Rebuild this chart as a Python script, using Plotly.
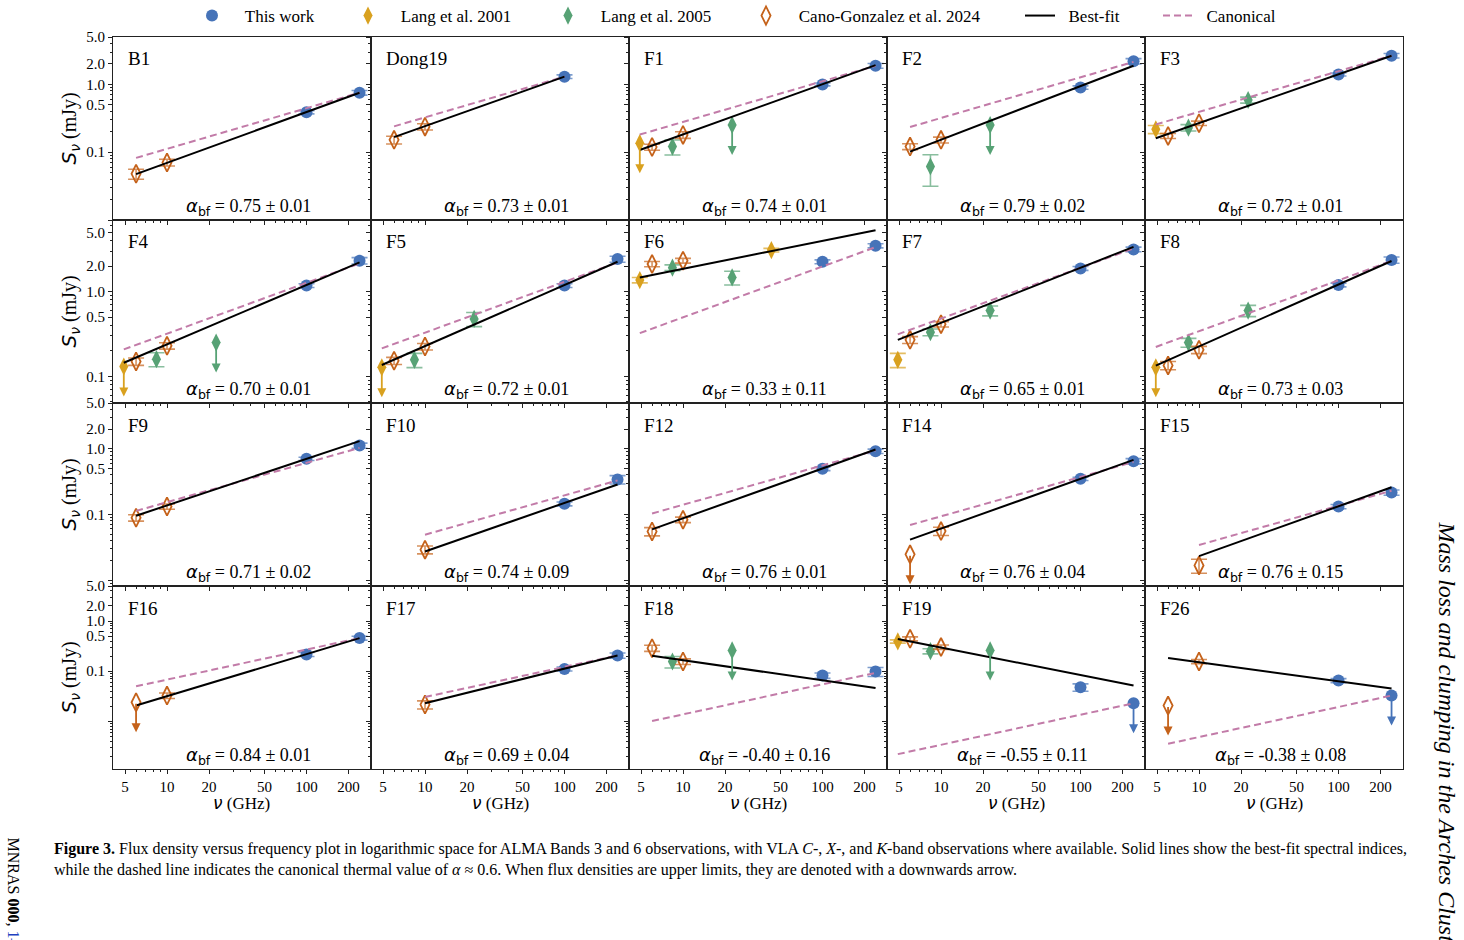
import math
import plotly.graph_objects as go

# ---------------- data ----------------
PANELS = ["B1", "Dong19", "F1", "F2", "F3",
          "F4", "F5", "F6", "F7", "F8",
          "F9", "F10", "F12", "F14", "F15",
          "F16", "F17", "F18", "F19", "F26"]
ALPHA_BF = [0.75, 0.73, 0.74, 0.79, 0.72, 0.70, 0.72, 0.33, 0.65, 0.73,
            0.71, 0.74, 0.76, 0.76, 0.76, 0.84, 0.69, -0.40, -0.55, -0.38]
ALPHA_ERR = [0.01, 0.01, 0.01, 0.02, 0.01, 0.01, 0.01, 0.11, 0.01, 0.03,
             0.02, 0.09, 0.01, 0.04, 0.15, 0.01, 0.04, 0.16, 0.11, 0.08]

# (panel, frequency GHz, flux mJy, error mJy, upper limit)
THIS_WORK = [
    ("B1", 100, 0.388, 0.02, False), ("B1", 240, 0.754, 0.06, False),
    ("Dong19", 100, 1.30, 0.08, False),
    ("F1", 100, 1.00, 0.05, False), ("F1", 240, 1.88, 0.15, False),
    ("F2", 100, 0.90, 0.05, False), ("F2", 240, 2.20, 0.20, False),
    ("F3", 100, 1.40, 0.07, False), ("F3", 240, 2.65, 0.20, False),
    ("F4", 100, 1.18, 0.06, False), ("F4", 240, 2.32, 0.20, False),
    ("F5", 100, 1.18, 0.06, False), ("F5", 240, 2.42, 0.20, False),
    ("F6", 100, 2.25, 0.12, False), ("F6", 240, 3.48, 0.20, False),
    ("F7", 100, 1.88, 0.10, False), ("F7", 240, 3.15, 0.20, False),
    ("F8", 100, 1.20, 0.06, False), ("F8", 240, 2.36, 0.20, False),
    ("F9", 100, 0.705, 0.04, False), ("F9", 240, 1.12, 0.10, False),
    ("F10", 100, 0.145, 0.01, False), ("F10", 240, 0.341, 0.05, False),
    ("F12", 100, 0.496, 0.03, False), ("F12", 240, 0.92, 0.07, False),
    ("F14", 100, 0.349, 0.02, False), ("F14", 240, 0.649, 0.06, False),
    ("F15", 100, 0.132, 0.01, False), ("F15", 240, 0.216, 0.02, False),
    ("F16", 100, 0.216, 0.02, False), ("F16", 240, 0.457, 0.04, False),
    ("F17", 100, 0.111, 0.01, False), ("F17", 240, 0.206, 0.025, False),
    ("F18", 100, 0.0819, 0.01, False), ("F18", 240, 0.0985, 0.02, False),
    ("F19", 100, 0.0479, 0.008, False), ("F19", 240, 0.0229, 0.0, True),
    ("F26", 100, 0.065, 0.006, False), ("F26", 240, 0.0327, 0.0, True),
]
LANG2001 = [
    ("F1", 4.9, 0.136, 0.0, True),
    ("F3", 4.9, 0.218, 0.03, False),
    ("F4", 4.9, 0.131, 0.0, True),
    ("F5", 4.9, 0.128, 0.0, True),
    ("F6", 4.9, 1.37, 0.10, False), ("F6", 43, 3.09, 0.15, False),
    ("F7", 4.9, 0.157, 0.03, False),
    ("F8", 4.9, 0.128, 0.0, True),
    ("F19", 4.9, 0.392, 0.03, False),
]
LANG2005 = [
    ("F1", 8.4, 0.121, 0.03, False), ("F1", 22.5, 0.252, 0.0, True),
    ("F2", 8.4, 0.0615, 0.03, False), ("F2", 22.5, 0.252, 0.0, True),
    ("F3", 8.4, 0.23, 0.025, False), ("F3", 22.5, 0.589, 0.06, False),
    ("F4", 8.4, 0.16, 0.03, False), ("F4", 22.5, 0.251, 0.0, True),
    ("F5", 8.4, 0.157, 0.03, False), ("F5", 22.5, 0.477, 0.09, False),
    ("F6", 8.4, 1.92, 0.15, False), ("F6", 22.5, 1.47, 0.27, False),
    ("F7", 8.4, 0.332, 0.03, False), ("F7", 22.5, 0.598, 0.08, False),
    ("F8", 8.4, 0.251, 0.03, False), ("F8", 22.5, 0.598, 0.09, False),
    ("F18", 8.4, 0.156, 0.04, False), ("F18", 22.5, 0.259, 0.0, True),
    ("F19", 8.4, 0.251, 0.03, False), ("F19", 22.5, 0.259, 0.0, True),
]
CANO2024 = [
    ("B1", 6, 0.048, 0.008, False), ("B1", 10, 0.0705, 0.008, False),
    ("Dong19", 6, 0.152, 0.02, False), ("Dong19", 10, 0.238, 0.025, False),
    ("F1", 6, 0.119, 0.012, False), ("F1", 10, 0.18, 0.02, False),
    ("F2", 6, 0.121, 0.012, False), ("F2", 10, 0.152, 0.015, False),
    ("F3", 6, 0.174, 0.015, False), ("F3", 10, 0.267, 0.02, False),
    ("F4", 6, 0.15, 0.015, False), ("F4", 10, 0.23, 0.02, False),
    ("F5", 6, 0.153, 0.015, False), ("F5", 10, 0.225, 0.02, False),
    ("F6", 6, 2.12, 0.15, False), ("F6", 10, 2.32, 0.15, False),
    ("F7", 6, 0.27, 0.025, False), ("F7", 10, 0.413, 0.03, False),
    ("F8", 6, 0.135, 0.015, False), ("F8", 10, 0.206, 0.02, False),
    ("F9", 6, 0.089, 0.01, False), ("F9", 10, 0.132, 0.012, False),
    ("F10", 10, 0.029, 0.004, False),
    ("F12", 6, 0.055, 0.008, False), ("F12", 10, 0.083, 0.008, False),
    ("F14", 6, 0.0246, 0.0, True), ("F14", 10, 0.0557, 0.008, False),
    ("F15", 10, 0.0167, 0.004, False),
    ("F16", 6, 0.024, 0.0, True), ("F16", 10, 0.0326, 0.004, False),
    ("F17", 10, 0.0216, 0.004, False),
    ("F18", 6, 0.288, 0.04, False), ("F18", 10, 0.156, 0.02, False),
    ("F19", 6, 0.443, 0.04, False), ("F19", 10, 0.302, 0.03, False),
    ("F26", 6, 0.0206, 0.0, True), ("F26", 10, 0.156, 0.015, False),
]
# best-fit and canonical (alpha = 0.6) model values at the highest frequency of each panel
BF_END = [0.754, 1.30, 1.92, 1.88, 2.65, 2.21, 2.25, 5.31, 3.38, 2.30,
          1.31, 0.286, 0.977, 0.68, 0.259, 0.457, 0.206, 0.0464, 0.0517, 0.045]
CANON_END = [0.754, 1.30, 1.88, 2.15, 2.65, 2.15, 2.21, 3.35, 3.24, 2.30,
             1.035, 0.33, 0.944, 0.63, 0.23, 0.457, 0.206, 0.0926, 0.0229, 0.0327]
CANON_ALPHA = 0.6

X_TICKS = [5, 10, 20, 50, 100, 200]
Y_TICKS = [0.001, 0.01, 0.1, 0.5, 1, 2, 5]
Y_TICKTEXT = ["", "", "0.1", "0.5", "1.0", "2.0", "5.0"]

# ---------------- style / layout ----------------
W, H = 1464, 940
COL_L = [113, 371, 629, 887, 1145]
PW = 258
ROW_T = [37, 220, 403, 586]
PH = 183
X_RANGE = (4.1, 290.0)
Y_RANGES = [(0.01, 5.0), (0.0486, 7.0), (0.0081, 5.0), (0.00112, 5.0)]

SERIF = "Liberation Serif"
MATH = "DejaVu Sans"
BLUE = "#4673B8"
GOLD = "#D9A11F"
GREEN = "#57A275"
ORANGE = "#C5621A"
PINK = "#C27BA8"
FRAME = "#222222"
NB = "\u00a0"


def rgba(hexc, a):
    h = hexc.lstrip("#")
    return "rgba(%d,%d,%d,%.2f)" % (int(h[0:2], 16), int(h[2:4], 16), int(h[4:6], 16), a)


def px(x):
    return x / W


def py(y):
    return 1 - y / H


SOURCES = [
    ("Lang et al. 2001", LANG2001, dict(symbol="diamond-tall", size=13, color=GOLD), GOLD, "legend2"),
    ("Lang et al. 2005", LANG2005, dict(symbol="diamond-tall", size=13, color=GREEN), GREEN, "legend3"),
    ("Cano-Gonzalez et al. 2024", CANO2024,
     dict(symbol="diamond-tall-open", size=13, color=ORANGE, line=dict(width=1.8, color=ORANGE)), ORANGE, "legend4"),
    ("This work", THIS_WORK, dict(symbol="circle", size=12, color=BLUE), BLUE, "legend"),
]

x_minor = [m * 10 ** k for k in range(0, 3) for m in range(1, 10)]
x_minor = [v for v in x_minor if v not in X_TICKS]
y_minor = [m * 10 ** k for k in range(-3, 1) for m in range(1, 10)]
y_minor = [round(v, 6) for v in y_minor if round(v, 6) not in Y_TICKS]

fig = go.Figure()
annotations = []
layout = {}
legend_done = set()

for i, name in enumerate(PANELS):
    r, c = divmod(i, 5)
    n = i + 1
    xa = "x" if n == 1 else "x%d" % n
    ya = "y" if n == 1 else "y%d" % n
    xk = "xaxis" if n == 1 else "xaxis%d" % n
    yk = "yaxis" if n == 1 else "yaxis%d" % n
    ylo, yhi = Y_RANGES[r]
    layout[xk] = dict(
        type="log", range=[math.log10(X_RANGE[0]), math.log10(X_RANGE[1])],
        domain=[px(COL_L[c]), px(COL_L[c] + PW)], anchor=ya,
        showline=True, mirror=True, linecolor=FRAME, linewidth=1,
        ticks="outside", ticklen=4, tickwidth=1, tickcolor=FRAME,
        tickmode="array", tickvals=X_TICKS, ticktext=[str(v) for v in X_TICKS],
        showticklabels=(r == 3), showgrid=False, zeroline=False,
        tickfont=dict(family=SERIF, size=15, color="black"),
        minor=dict(ticks="outside", ticklen=2, tickwidth=0.8, tickcolor=FRAME,
                   tickmode="array", tickvals=x_minor, showgrid=False),
    )
    layout[yk] = dict(
        type="log", range=[math.log10(ylo), math.log10(yhi)],
        domain=[py(ROW_T[r] + PH), py(ROW_T[r])], anchor=xa,
        showline=True, mirror=True, linecolor=FRAME, linewidth=1,
        ticks="outside", ticklen=4, tickwidth=1, tickcolor=FRAME,
        tickmode="array", tickvals=Y_TICKS, ticktext=Y_TICKTEXT,
        showticklabels=(c == 0), showgrid=False, zeroline=False,
        tickfont=dict(family=SERIF, size=15, color="black"),
        minor=dict(ticks="outside", ticklen=2, tickwidth=0.8, tickcolor=FRAME,
                   tickmode="array", tickvals=y_minor, showgrid=False),
    )
    # arrow length (30 px) in log units for this row
    dec_per_px = (math.log10(yhi) - math.log10(ylo)) / PH
    arrow_len = 30 * dec_per_px

    freqs = []
    for label, data, mk, col, lg in SOURCES:
        pts = [d for d in data if d[0] == name]
        freqs += [d[1] for d in pts]
        det = [d for d in pts if not d[4]]
        ul = [d for d in pts if d[4]]
        if det:
            show = label not in legend_done
            legend_done.add(label)
            fig.add_trace(go.Scatter(
                x=[d[1] for d in det], y=[d[2] for d in det], mode="markers",
                marker=mk, name=NB * 3 + label, showlegend=show, legend=lg,
                error_y=dict(type="data", array=[d[3] for d in det], visible=True,
                             color=rgba(col, 0.7), thickness=1.6, width=8),
                xaxis=xa, yaxis=ya, hoverinfo="skip"))
        if ul:
            show = label not in legend_done
            legend_done.add(label)
            fig.add_trace(go.Scatter(
                x=[d[1] for d in ul], y=[d[2] for d in ul], mode="markers",
                marker=mk, name=NB * 3 + label, showlegend=show, legend=lg,
                xaxis=xa, yaxis=ya, hoverinfo="skip"))
            for d in ul:
                lx = math.log10(d[1])
                ly = math.log10(d[2])
                annotations.append(dict(
                    x=lx, y=ly - arrow_len, ax=lx, ay=ly, xref=xa, yref=ya,
                    axref=xa, ayref=ya, text="", showarrow=True, arrowhead=2,
                    arrowsize=1, arrowwidth=1.8, arrowcolor=col, standoff=0, startstandoff=0))

    fmin, fmax = min(freqs), max(freqs)
    # canonical line
    c_end = CANON_END[i]
    c_start = c_end * (fmin / fmax) ** CANON_ALPHA
    fig.add_trace(go.Scatter(
        x=[fmin, fmax], y=[c_start, c_end], mode="lines",
        line=dict(color=PINK, width=2, dash="7px,4px"), name=NB * 2 + "Canonical",
        showlegend=(i == 0), legend="legend6", xaxis=xa, yaxis=ya, hoverinfo="skip"))
    # best-fit line
    b_end = BF_END[i]
    b_start = b_end * (fmin / fmax) ** ALPHA_BF[i]
    fig.add_trace(go.Scatter(
        x=[fmin, fmax], y=[b_start, b_end], mode="lines",
        line=dict(color="black", width=2), name=NB * 2 + "Best-fit",
        showlegend=(i == 0), legend="legend5", xaxis=xa, yaxis=ya, hoverinfo="skip"))

    # panel label
    annotations.append(dict(
        x=px(COL_L[c] + 13), y=py(ROW_T[r] + 22), xref="paper", yref="paper",
        xanchor="left", yanchor="middle", showarrow=False, text=name,
        font=dict(family=SERIF, size=19, color="black")))
    # alpha text
    annotations.append(dict(
        x=px(COL_L[c] + 135), y=py(ROW_T[r] + PH - 13), xref="paper", yref="paper",
        xanchor="center", yanchor="middle", showarrow=False,
        text='<span style="font-family:%s"><i>α</i><sub>bf</sub></span> = %.2f ± %.2f'
             % (MATH, ALPHA_BF[i], ALPHA_ERR[i]),
        font=dict(family=SERIF, size=18, color="black")))

# axis titles
for r in range(4):
    annotations.append(dict(
        x=px(69), y=py(ROW_T[r] + PH / 2), xref="paper", yref="paper",
        xanchor="center", yanchor="middle", showarrow=False, textangle=-90,
        text='<span style="font-family:%s"><i>S</i><sub><i>ν</i></sub></span> (mJy)' % MATH,
        font=dict(family=SERIF, size=20, color="black")))
for c in range(5):
    annotations.append(dict(
        x=px(COL_L[c] + PW / 2), y=py(803), xref="paper", yref="paper",
        xanchor="center", yanchor="middle", showarrow=False,
        text='<span style="font-family:%s"><i>ν</i></span> (GHz)' % MATH,
        font=dict(family=SERIF, size=17, color="black")))

# caption
annotations.append(dict(
    x=px(52), y=py(838), xref="paper", yref="paper", xanchor="left", yanchor="top",
    align="left", showarrow=False,
    text=("<b>Figure 3.</b> Flux density versus frequency plot in logarithmic space for ALMA Bands 3 and 6 "
          "observations, with VLA <i>C</i>-, <i>X</i>-, and <i>K</i>-band observations where available. "
          "Solid lines show the best-fit spectral indices,<br>while the dashed line indicates the canonical "
          "thermal value of <i>α</i> ≈ 0.6. When flux densities are upper limits, they are denoted with a "
          "downwards arrow."),
    font=dict(family=SERIF, size=16, color="black")))
# running head (rotated)
annotations.append(dict(
    x=px(1447), y=py(519), xref="paper", yref="paper", xanchor="center", yanchor="top",
    showarrow=False, textangle=90,
    text="<i>Mass loss and clumping in the Arches Cluster</i>",
    font=dict(family=SERIF, size=24, color="black")))
annotations.append(dict(
    x=px(13), y=py(835), xref="paper", yref="paper", xanchor="center", yanchor="top",
    showarrow=False, textangle=90,
    text='MNRAS <b>000</b>, <span style="color:#2040C0">1–21</span>',
    font=dict(family=SERIF, size=16, color="black")))

# legends (one per entry, placed individually)
LEG_X = {"legend": 192, "legend2": 348, "legend3": 548, "legend4": 746, "legend5": 1020, "legend6": 1158}
for key, lx in LEG_X.items():
    layout[key] = dict(x=px(lx), y=py(16), xanchor="left", yanchor="middle", orientation="h",
                       bgcolor="rgba(0,0,0,0)", borderwidth=0,
                       font=dict(family=SERIF, size=17, color="black"))

fig.update_layout(
    width=W, height=H, autosize=False,
    margin=dict(l=0, r=0, t=0, b=0, pad=0, autoexpand=False),
    paper_bgcolor="white", plot_bgcolor="white",
    annotations=annotations,
    **layout,
)

fig.write_html("out.html")
